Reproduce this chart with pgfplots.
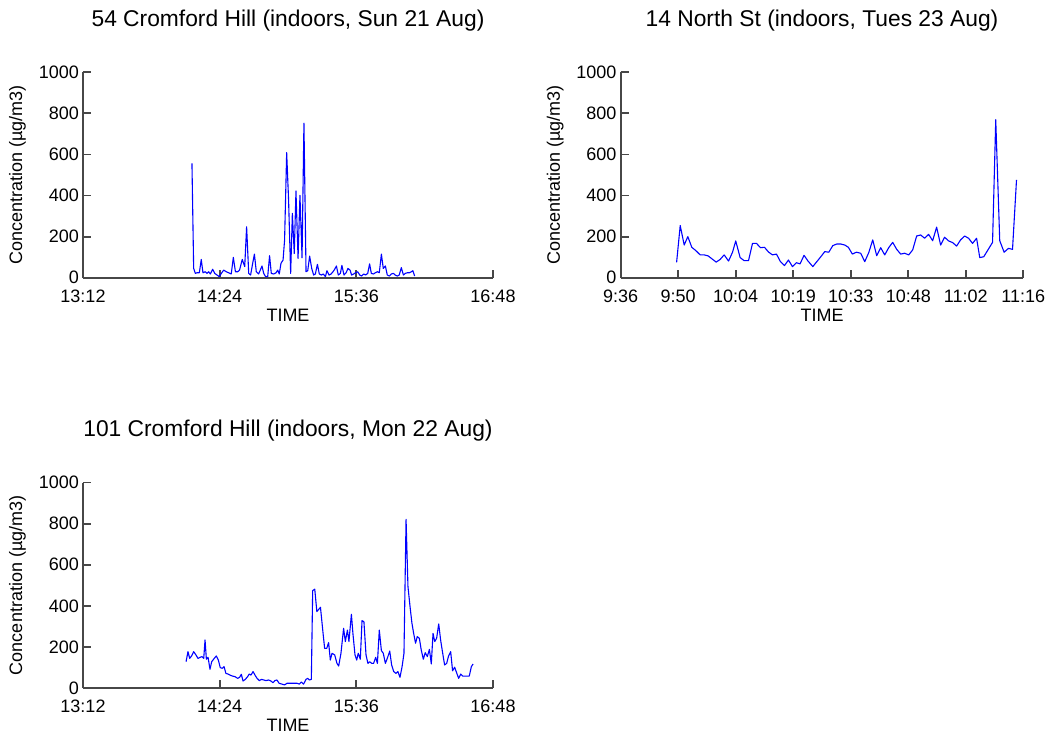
\documentclass[border=0pt]{standalone}
\usepackage{fontspec}
\setmainfont{Liberation Sans}
\usepackage{pgfplots}
\pgfplotsset{compat=1.18}
\usepackage{pgfplotstable}

\pgfplotstableread{
t v
849.4 557
850.3 45
851.2 21
852.1 24
853.3 24
854.3 89
855.2 24
856.4 29
857.3 21
858.2 29
859.1 18
860.3 41
861.4 21
862.6 13
863.8 5
864.9 21
866.1 37
867.5 29
868.7 24
870.1 18
871.2 99
872.3 29
873.5 29
874.5 37
875.9 89
877.2 54
878.2 248
879.3 21
880.3 13
881.4 70
882.3 115
883.3 29
884.5 18
885.4 37
886.3 57
887.2 21
888.2 5
889.3 5
890.3 107
891.2 21
892.4 18
893.7 24
894.6 37
895.4 18
896.3 70
897.4 86
898.2 183
899.3 609
900.3 380
901.4 21
902.3 313
903.3 118
904.2 422
905.3 94
906.3 401
907.4 97
908.4 752
909.5 29
910.4 34
911.4 105
912.5 45
913.5 13
914.4 18
915.5 65
916.5 18
917.6 13
918.6 18
919.7 5
920.5 34
921.6 13
922.7 18
923.7 29
924.6 41
925.5 57
926.5 13
927.6 21
928.4 60
929.5 13
930.6 24
931.6 45
932.7 37
933.5 13
934.6 18
935.6 24
936.7 29
937.8 13
938.8 8
939.9 18
940.9 13
942.0 21
943.0 67
943.9 21
945.0 18
946.0 24
947.1 29
948.1 24
949.2 115
950.2 45
951.3 57
952.3 13
953.4 8
954.4 18
955.5 21
956.5 13
957.6 8
958.6 13
959.7 49
960.8 13
961.8 21
962.9 24
963.9 24
965.0 29
965.8 34
966.7 8
}\dataA

\pgfplotstableread{
t v
590.0 75
590.9 254
591.9 159
592.8 200
593.8 148
594.8 132
595.9 111
596.9 111
597.9 106
598.9 91
599.9 76
600.9 89
601.9 111
603.0 81
604.0 124
604.8 179
605.9 98
606.9 83
608.0 83
609.0 167
610.0 167
611.0 146
612.0 148
613.0 125
614.0 111
615.0 115
616.0 78
617.0 59
618.0 86
619.0 54
620.0 73
620.9 67
621.9 109
622.9 81
624.1 54
625.1 78
626.1 102
627.1 127
628.1 124
629.1 156
630.1 164
631.1 164
632.1 159
633.0 148
634.0 115
635.0 124
636.1 119
637.1 78
638.1 122
639.1 184
640.1 107
641.1 146
642.1 111
643.1 146
644.1 172
645.1 138
646.1 115
647.1 119
648.1 111
649.1 135
650.1 203
651.1 208
652.1 192
653.1 211
654.1 180
655.1 246
656.1 159
657.1 197
658.1 179
659.1 171
660.1 154
661.1 184
662.1 203
663.1 192
664.1 167
665.1 192
665.9 98
666.9 102
668.0 137
669.1 172
669.9 769
670.9 180
672.0 124
673.1 143
674.1 138
675.1 476
}\dataB

\pgfplotstableread{
t v
846.3 128
847.3 177
848.2 144
849.2 156
850.3 177
851.5 161
852.6 144
853.6 149
854.7 153
855.6 144
856.3 234
857.0 140
857.9 149
858.9 91
859.8 128
860.8 140
862.2 156
863.3 136
864.3 99
865.4 96
866.3 104
867.3 71
868.4 68
869.6 62
870.8 58
872.1 55
873.5 47
874.5 52
875.4 67
876.3 34
877.5 42
878.7 55
879.6 68
880.5 63
881.6 80
882.6 63
883.7 47
884.9 36
886.1 42
887.2 39
888.4 36
889.8 39
891.0 34
892.1 26
893.1 36
894.2 39
895.3 23
896.8 19
898.2 15
899.5 23
901.2 23
903.0 23
904.7 23
906.0 19
907.0 29
908.2 19
909.5 42
910.4 47
911.2 39
912.3 42
913.0 474
914.1 481
915.2 372
916.2 383
917.1 393
918.3 282
919.3 193
920.4 193
921.4 221
922.3 136
923.2 169
924.6 161
925.8 120
926.7 107
927.9 169
929.3 291
930.2 226
931.3 282
932.1 226
933.4 359
934.2 266
935.3 161
936.2 136
937.0 169
938.1 140
939.0 328
940.0 323
941.1 161
942.1 120
943.0 128
944.1 120
945.1 120
946.2 149
947.1 120
948.1 282
949.2 182
950.2 169
951.3 120
952.3 144
953.6 180
954.6 112
955.7 80
956.9 71
957.9 80
959.0 52
960.1 104
961.1 169
962.2 821
963.2 494
964.3 396
965.3 315
966.2 266
967.2 218
968.1 250
969.2 242
970.2 185
971.3 140
972.3 172
973.4 153
974.5 188
975.5 117
976.4 266
977.3 226
978.3 242
979.4 312
980.4 234
981.5 169
982.5 112
983.6 120
984.6 156
985.7 177
986.7 84
987.8 101
988.8 75
989.9 47
991.0 68
992.0 58
993.1 58
994.3 58
995.5 58
996.6 104
997.5 117
}\dataC

\pgfplotsset{
  panel/.style={
    scale only axis,
    anchor=south west,
    height=102.7pt,
    axis x line=bottom, axis y line=left,
    axis line style={-, draw=black!72, line width=0.9pt},
    tick style={draw=black!72, line width=0.9pt},
    tick align=inside,
    major tick length=4pt,
    ymin=0, ymax=1000, ytick={0,200,400,600,800,1000},
    scaled ticks=false,
    /pgf/number format/1000 sep={},
    /pgf/number format/assume math mode=true,
    tick label style={font=\fontsize{9}{10}\selectfont},
    yticklabel style={anchor=east, inner sep=0pt, xshift=-1.9pt},
    xticklabel style={anchor=north, inner sep=0pt, yshift=-5.8pt},
    xlabel={TIME},
    ylabel={Concentration (µg/m3)},
    label style={font=\fontsize{9}{10}\selectfont},
    xlabel style={at={([yshift=-18.6pt]axis description cs:0.5,0)}, anchor=center},
    ylabel style={at={([xshift=-32.8pt]axis description cs:0,0.5)}, anchor=center},
    every axis title shift=0pt,
    title style={font=\fontsize{11.4}{13}\selectfont, at={([yshift=23pt]axis description cs:0.5,1)}, anchor=base},
  },
  dataline/.style={blue, line width=0.55pt, no markers, sharp plot, line join=round},
}

\begin{document}
\begin{tikzpicture}
\path[use as bounding box] (0,0) rectangle (530.5pt,369pt);

\begin{axis}[panel, at={(41.5pt,230.15pt)}, width=205pt,
  xmin=792, xmax=1008, xtick={792,864,936,1008},
  xticklabels={13:12,14:24,15:36,16:48},
  title={54 Cromford Hill (indoors, Sun 21 Aug)}]
\addplot[dataline] table[x=t,y=v] {\dataA};
\end{axis}

\begin{axis}[panel, at={(310.35pt,230.15pt)}, width=201.3pt,
  xmin=576, xmax=676.8, xtick={576,590.4,604.8,619.2,633.6,648,662.4,676.8},
  xticklabels={9:36,9:50,10:04,10:19,10:33,10:48,11:02,11:16},
  title={14 North St (indoors, Tues 23 Aug)}]
\addplot[dataline] table[x=t,y=v] {\dataB};
\end{axis}

\begin{axis}[panel, at={(41.5pt,25pt)}, width=205pt,
  xmin=792, xmax=1008, xtick={792,864,936,1008},
  xticklabels={13:12,14:24,15:36,16:48},
  title={101 Cromford Hill (indoors, Mon 22 Aug)}]
\addplot[dataline] table[x=t,y=v] {\dataC};
\end{axis}
\end{tikzpicture}
\end{document}
